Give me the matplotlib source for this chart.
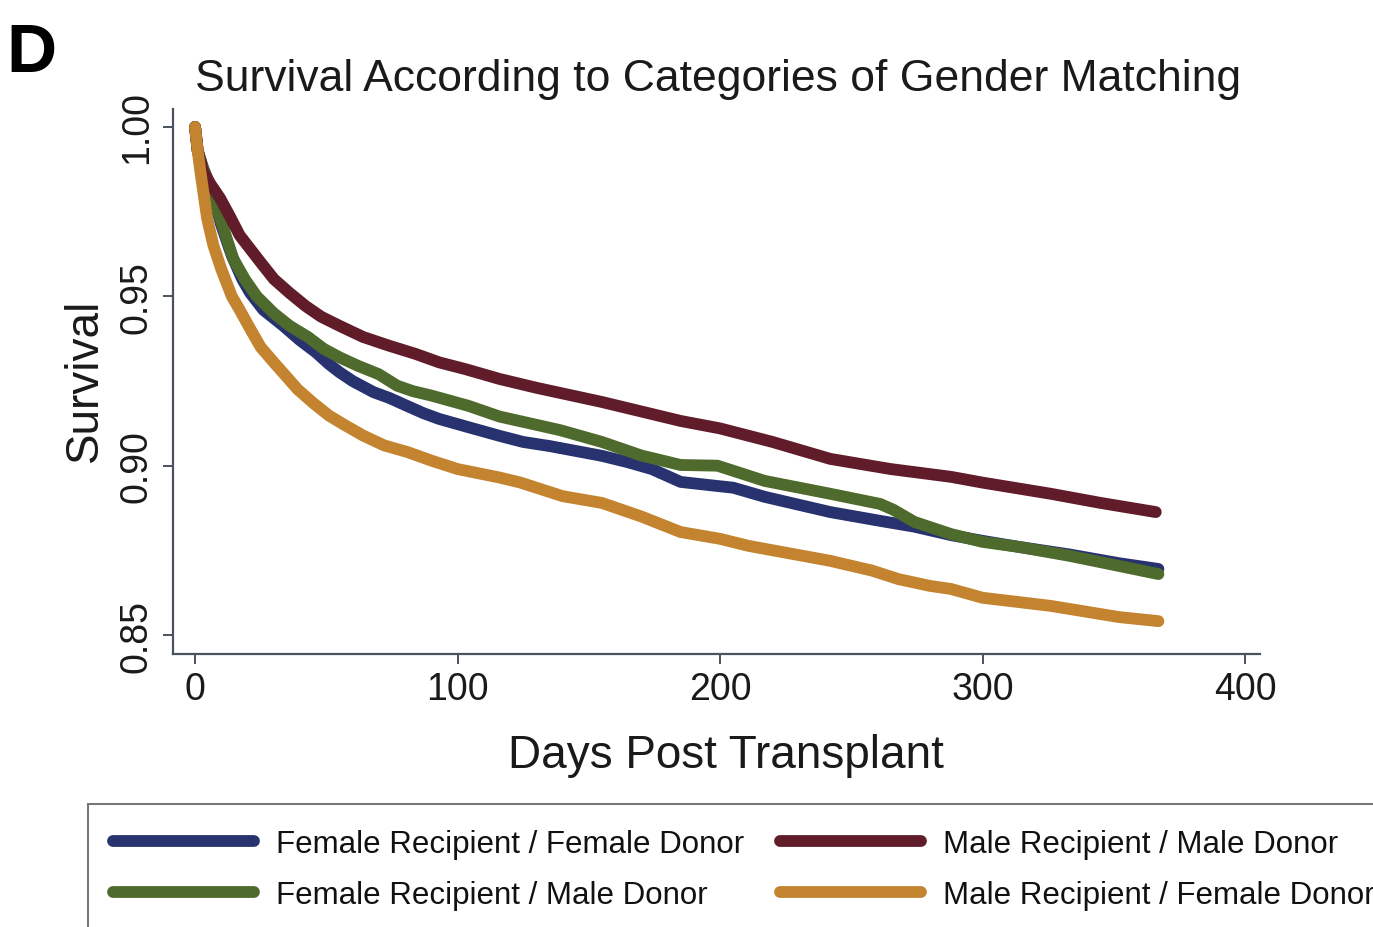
import matplotlib
matplotlib.use("Agg")
import matplotlib.pyplot as plt
from matplotlib import font_manager

plt.rcParams['font.family'] = ['Liberation Sans', 'DejaVu Sans']

# Kaplan-Meier survival estimates by donor/recipient gender match
ff_days = [0, 1, 3, 6, 10, 14, 18, 21, 26, 33.6, 40, 46, 51, 55, 60, 68, 74, 80.6, 87,
           93, 103.5, 116, 125, 135, 155, 165, 174, 185, 199, 205, 217, 242, 261, 274,
           288, 300, 314, 333, 352, 367]
ff_surv = [1.000, 0.993, 0.988, 0.982, 0.971, 0.962, 0.955, 0.951, 0.946, 0.9413,
           0.937, 0.9335, 0.930, 0.9276, 0.925, 0.9217, 0.920, 0.9177, 0.9155, 0.9138,
           0.9115, 0.9088, 0.907, 0.9058, 0.9029, 0.901, 0.899, 0.8952, 0.894, 0.8935,
           0.8908, 0.8863, 0.8837, 0.882, 0.8795, 0.8778, 0.876, 0.8738, 0.8712, 0.8695]

fm_days = [0, 1, 3, 6, 10, 14.6, 19, 23.5, 30, 36, 43, 49, 55, 62, 70, 77, 83, 90, 104,
           116, 139, 155, 170, 185, 199, 217, 242, 261, 266, 274, 288, 300, 314, 333,
           352, 367]
fm_surv = [1.000, 0.993, 0.988, 0.982, 0.972, 0.961, 0.955, 0.950, 0.945, 0.9413,
           0.938, 0.9345, 0.932, 0.9295, 0.927, 0.9236, 0.922, 0.9207, 0.9177, 0.9145,
           0.9105, 0.907, 0.903, 0.9002, 0.900, 0.8955, 0.8917, 0.8887, 0.887, 0.8834,
           0.8798, 0.8775, 0.876, 0.8734, 0.8704, 0.868]

mm_days = [0, 1, 3, 6, 9.5, 13, 17, 21, 25, 30, 36, 42, 48, 55, 64, 74, 84, 93, 103,
           116, 130, 155, 170, 185, 200, 220, 242, 265, 288, 300, 326, 345, 366]
mm_surv = [1.000, 0.993, 0.987, 0.983, 0.979, 0.974, 0.968, 0.964, 0.960, 0.9551,
           0.951, 0.9472, 0.944, 0.9413, 0.938, 0.9354, 0.933, 0.9305, 0.9285, 0.9256,
           0.923, 0.9188, 0.916, 0.9132, 0.911, 0.907, 0.902, 0.899, 0.8967, 0.895,
           0.8917, 0.889, 0.8863]

mf_days = [0, 1, 2, 4.6, 7, 10, 14, 17, 21, 25, 30, 34, 39, 45, 51, 57, 64, 72, 81, 90,
           100, 116, 124, 140, 155, 170, 185, 200, 211, 242, 258, 268, 280, 288, 300,
           326, 352, 367]
mf_surv = [1.000, 0.993, 0.987, 0.973, 0.965, 0.958, 0.950, 0.946, 0.9404, 0.935,
           0.9305, 0.927, 0.9226, 0.9185, 0.9148, 0.912, 0.9089, 0.906, 0.904, 0.9015,
           0.899, 0.8965, 0.895, 0.891, 0.889, 0.885, 0.8804, 0.8784, 0.8763, 0.8719,
           0.869, 0.8665, 0.8645, 0.8636, 0.861, 0.8586, 0.8553, 0.8541]

series_labels = ["Female Recipient / Female Donor", "Female Recipient / Male Donor",
                 "Male Recipient / Male Donor", "Male Recipient / Female Donor"]
series_colors = ["#27326f", "#4e6a2c", "#611c2a", "#c4842f"]

x_ticks = [0, 100, 200, 300, 400]
x_tick_labels = ["0", "100", "200", "300", "400"]
y_ticks = [0.85, 0.90, 0.95, 1.00]
y_tick_labels = ["0.85", "0.90", "0.95", "1.00"]

W, H = 1373, 928
fig = plt.figure(figsize=(W / 100, H / 100), dpi=100, facecolor="white")
ax = fig.add_axes([173 / W, 1 - 655 / H, (1260 - 173) / W, (655 - 110) / H])

axis_color = "#4a5260"
lines = []
for d, s, lab, col in zip([ff_days, fm_days, mm_days, mf_days],
                          [ff_surv, fm_surv, mm_surv, mf_surv],
                          series_labels, series_colors):
    ln, = ax.plot(d, s, color=col, lw=8.5, solid_capstyle="round",
                  solid_joinstyle="round", label=lab)
    lines.append(ln)

ax.set_xlim(-8.4, 405.7)
ax.set_ylim(0.8444, 1.0053)
ax.set_xticks(x_ticks)
ax.set_xticklabels(x_tick_labels, fontsize=27)
ax.set_yticks(y_ticks)
ax.set_yticklabels(y_tick_labels, fontsize=27, rotation=90, va="center")

for side in ("top", "right"):
    ax.spines[side].set_visible(False)
for side in ("left", "bottom"):
    ax.spines[side].set_color(axis_color)
    ax.spines[side].set_linewidth(1.6)
ax.tick_params(axis="both", direction="out", length=7, width=1.4,
               color=axis_color, labelcolor="#1a1a1a")
ax.tick_params(axis="x", pad=5)
ax.tick_params(axis="y", pad=6)

fig.text(718 / W, 1 - 91 / H, "Survival According to Categories of Gender Matching",
         fontsize=32, ha="center", va="baseline", color="#1a1a1a")
fig.text(725.5 / W, 1 - 768 / H, "Days Post Transplant", fontsize=33,
         ha="center", va="baseline", color="#1a1a1a")
fig.text(97 / W, 1 - 380 / H, "Survival", fontsize=33, rotation=90,
         rotation_mode="anchor", ha="center", va="baseline", color="#1a1a1a")
fig.text(6 / W, 1 - 72 / H, "D", fontsize=50, fontweight="bold",
         ha="left", va="baseline", color="black")

legend_font = font_manager.FontProperties(family=["Liberation Sans", "DejaVu Sans"],
                                          size=22.5)
leg = fig.legend(handles=lines, loc="upper left",
                 bbox_to_anchor=(88 / W, 1 - 805 / H), bbox_transform=fig.transFigure,
                 ncol=2, borderaxespad=0, borderpad=0.8, handlelength=4.5,
                 handletextpad=0.72, columnspacing=1.15, labelspacing=0.68,
                 frameon=True, fancybox=False, prop=legend_font)
leg.get_frame().set_edgecolor("#555555")
leg.get_frame().set_linewidth(1.5)
for t in leg.get_texts():
    t.set_color("#111111")

fig.savefig("out.png", dpi=100, facecolor="white")
